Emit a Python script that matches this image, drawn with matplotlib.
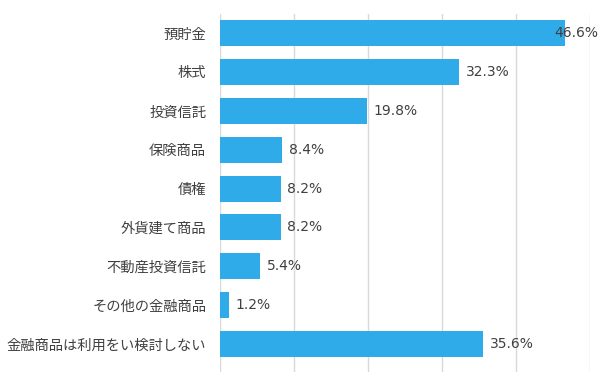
import matplotlib
matplotlib.use("Agg")
import matplotlib.pyplot as plt

plt.rcParams['font.family'] = ['Noto Sans CJK JP', 'DejaVu Sans']

# データ
categories = ["預貯金", "株式", "投資信託", "保険商品", "債権", "外貨建て商品",
              "不動産投資信託", "その他の金融商品", "金融商品は利用をい検討しない"]
values = [46.6, 32.3, 19.8, 8.4, 8.2, 8.2, 5.4, 1.2, 35.6]

fig = plt.figure(figsize=(6.05, 3.78), dpi=100)
ax = fig.add_axes([220 / 605, 1 - 372 / 378, 370 / 605, 358 / 378])

y = range(len(categories))
ax.barh(y, values, height=0.67, color="#30ABE9", zorder=2)

# 数値ラベル（右端ははみ出さないように寄せる）
for i, v in enumerate(values):
    ax.text(min(v + 0.9, 45.2), i, f"{v:.1f}%", va="center", ha="left",
            fontsize=10, color="#404040", family=["DejaVu Sans"], zorder=3)

ax.set_xlim(0, 50)
ax.set_ylim(8.72, -0.49)
ax.set_xticks(range(0, 51, 10))
ax.set_xticklabels([])
ax.tick_params(axis="x", length=0)
ax.set_yticks(list(y))
ax.set_yticklabels(categories, fontsize=10.3, color="#404040")
ax.tick_params(axis="y", length=0, pad=10)
ax.grid(axis="x", color="#D9D9D9", linewidth=1, zorder=0)
for s in ax.spines.values():
    s.set_visible(False)

fig.savefig("out.png", dpi=100)
